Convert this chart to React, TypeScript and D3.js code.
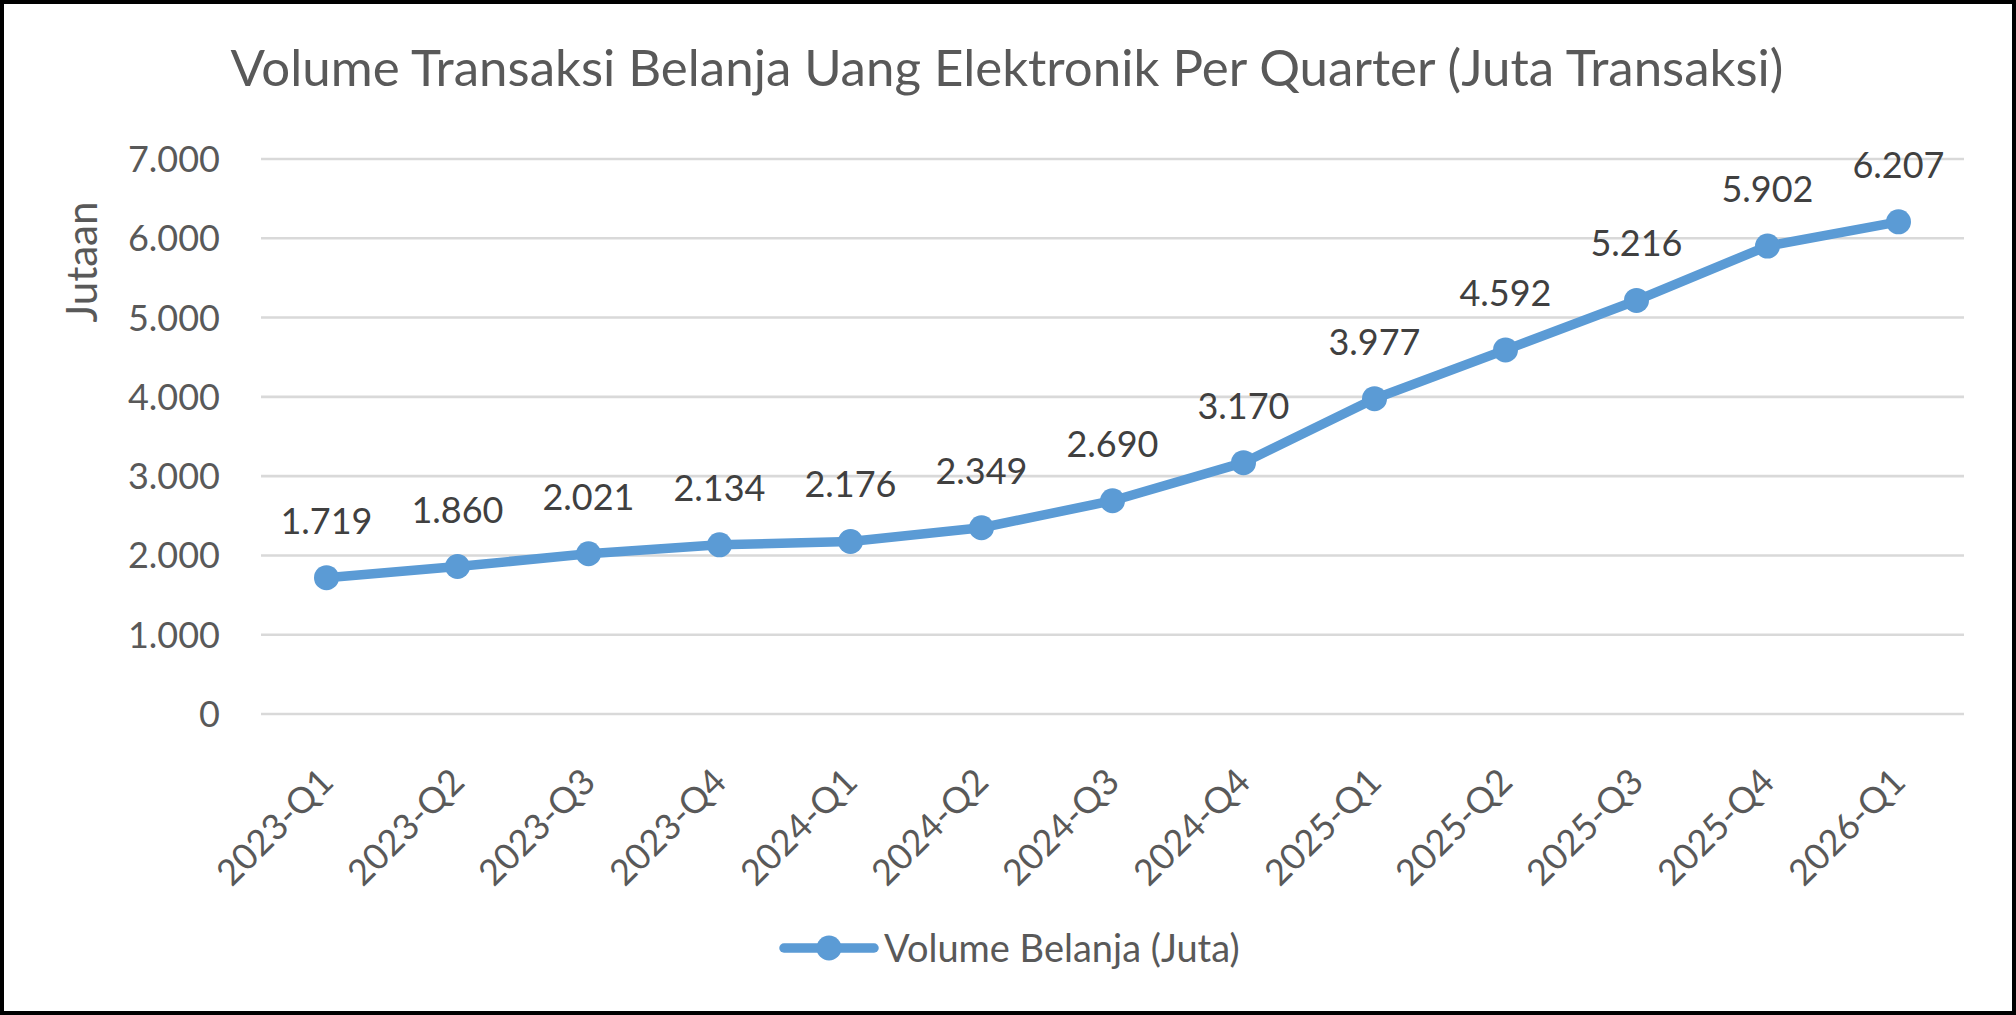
import React from "react";
import * as d3 from "d3";

const categories = [
  "2023-Q1", "2023-Q2", "2023-Q3", "2023-Q4",
  "2024-Q1", "2024-Q2", "2024-Q3", "2024-Q4",
  "2025-Q1", "2025-Q2", "2025-Q3", "2025-Q4", "2026-Q1",
];
const volume = [1719, 1860, 2021, 2134, 2176, 2349, 2690, 3170, 3977, 4592, 5216, 5902, 6207];
const yTicks = [0, 1000, 2000, 3000, 4000, 5000, 6000, 7000];
const title = "Volume Transaksi Belanja Uang Elektronik Per Quarter (Juta Transaksi)";
const yTitle = "Jutaan";
const seriesName = "Volume Belanja (Juta)";

const W = 2016;
const H = 1015;
const FONT = "Lato, 'Open Sans', sans-serif";
const BLUE = "#5B9BD5";
const TEXT = "#595959";
const LABEL = "#404040";

const fmt = (v: number) => d3.format(",")(v).replace(/,/g, ".");

export default function App() {
  const x = d3.scaleBand<string>().domain(categories).range([261, 1964]).padding(0);
  const cx = (c: string) => (x(c) as number) + x.bandwidth() / 2;
  const y = d3.scaleLinear().domain([0, 7000]).range([714, 159]);
  const line = d3
    .line<number>()
    .x((_, i) => cx(categories[i]))
    .y((d) => y(d));

  return (
    <svg
      width={W}
      height={H}
      viewBox={`0 0 ${W} ${H}`}
      style={{ position: "absolute", left: 0, top: 0, display: "block", background: "#fff" }}
      fontFamily={FONT}
    >
      <rect x={0} y={0} width={W} height={H} fill="#fff" />
      <rect x={2} y={2} width={W - 4} height={H - 4} fill="none" stroke="#000" strokeWidth={4} />

      <text x={1007} y={86} textAnchor="middle" fontSize={51} fill={TEXT}>
        {title}
      </text>

      <text
        transform={`translate(97, 262) rotate(-90)`}
        textAnchor="middle"
        fontSize={42}
        fill={TEXT}
      >
        {yTitle}
      </text>

      {yTicks.map((t) => (
        <g key={t}>
          <line x1={261} x2={1964} y1={y(t)} y2={y(t)} stroke="#D9D9D9" strokeWidth={2.6} />
          <text x={220} y={y(t)} dy="0.36em" textAnchor="end" fontSize={36} fill={TEXT}>
            {fmt(t)}
          </text>
        </g>
      ))}

      {categories.map((c) => (
        <text
          key={c}
          transform={`translate(${cx(c) + 9}, 784) rotate(-45)`}
          textAnchor="end"
          fontSize={36}
          fill={TEXT}
        >
          {c}
        </text>
      ))}

      <path d={line(volume) || ""} fill="none" stroke={BLUE} strokeWidth={9.5} strokeLinejoin="round" />
      {volume.map((v, i) => (
        <circle key={i} cx={cx(categories[i])} cy={y(v)} r={12.5} fill={BLUE} />
      ))}
      {volume.map((v, i) => (
        <text
          key={`l${i}`}
          x={cx(categories[i])}
          y={y(v) - 44}
          textAnchor="middle"
          fontSize={36}
          fill={LABEL}
        >
          {fmt(v)}
        </text>
      ))}

      <line x1={784} x2={874} y1={948} y2={948} stroke={BLUE} strokeWidth={9.5} strokeLinecap="round" />
      <circle cx={829} cy={948} r={12.5} fill={BLUE} />
      <text x={884} y={948} dy="0.36em" fontSize={38} fill={TEXT}>
        {seriesName}
      </text>
    </svg>
  );
}
